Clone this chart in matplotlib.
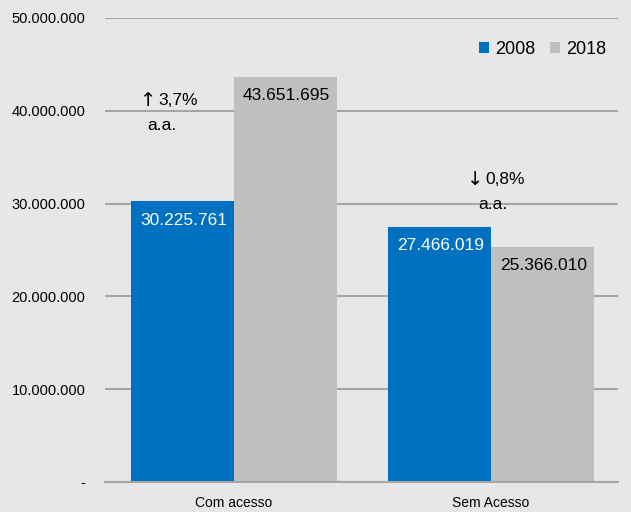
import matplotlib
matplotlib.use("Agg")
import matplotlib.pyplot as plt
import numpy as np

# ==========================================================
# Data
# ==========================================================

categories = ["Com acesso", "Sem Acesso"]
series_names = ["2008", "2018"]
values_2008 = [30225761, 27466019]
values_2018 = [43651695, 25366010]
growth_arrows = ["\u2191", "\u2193"]
growth_rates = ["3,7%", "0,8%"]
y_ticks = [0, 10000000, 20000000, 30000000, 40000000, 50000000]

BLUE = "#0070c0"
GRAY = "#bfbfbf"
BG = "#e6e7e9"
GRID = "#a6a6a6"

plt.rcParams["font.family"] = ["Liberation Sans", "DejaVu Sans"]


def fmt(v):
    return f"{v:,}".replace(",", ".")


# ==========================================================
# Figure
# ==========================================================

fig = plt.figure(figsize=(6.31, 5.12), dpi=100, facecolor=BG)
ax = fig.add_axes([0.1664, 0.0586, 0.8126, 0.9064], facecolor=BG)

x = np.arange(len(categories))
w = 0.4

bars_a = ax.bar(x - w / 2, values_2008, w, color=BLUE, label=series_names[0], zorder=3)
bars_b = ax.bar(x + w / 2, values_2018, w, color=GRAY, label=series_names[1], zorder=3)

for rect, v in zip(bars_a, values_2008):
    ax.text(rect.get_x() + rect.get_width() / 2 + 0.005, v - 1200000, fmt(v),
            ha="center", va="top", color="white", fontsize=12.5, zorder=4)
for rect, v in zip(bars_b, values_2018):
    ax.text(rect.get_x() + rect.get_width() / 2 + 0.005, v - 1200000, fmt(v),
            ha="center", va="top", color="black", fontsize=12.5, zorder=4)

# growth annotations (arrow, rate, "a.a." below)
ann_rate_pos = [(-0.253, 41150000), (1.02, 32550000)]
ann_aa_pos = [(-0.28, 38450000), (1.008, 29850000)]
for i in range(len(categories)):
    rx, ry = ann_rate_pos[i]
    ax.text(rx - 0.05, ry, growth_arrows[i], ha="right", va="center",
            fontsize=14, family="DejaVu Sans", zorder=4)
    ax.text(rx - 0.04, ry, growth_rates[i], ha="left", va="center",
            fontsize=12.5, zorder=4)
    ax_x, ax_y = ann_aa_pos[i]
    ax.text(ax_x, ax_y, "a.a.", ha="center", va="center", fontsize=12.5, zorder=4)

ax.set_ylim(0, 50000000)
ax.set_xlim(-0.502, 1.494)
ax.set_yticks(y_ticks)
ax.set_yticklabels(["-"] + [fmt(t) for t in y_ticks[1:]], fontsize=10.5)
ax.set_xticks(x)
ax.set_xticklabels(categories, fontsize=10)

ax.yaxis.grid(True, color=GRID, linewidth=1.5, zorder=0)
ax.set_axisbelow(True)
for side in ["top", "right", "left"]:
    ax.spines[side].set_visible(False)
ax.spines["bottom"].set_color(GRID)
ax.spines["bottom"].set_linewidth(1.5)
ax.spines["bottom"].set_zorder(5)
ax.tick_params(axis="both", length=0)
ax.tick_params(axis="y", pad=14)
ax.tick_params(axis="x", pad=10)

ax.legend(loc="upper right", bbox_to_anchor=(1.01, 0.985), ncol=2, frameon=False,
          fontsize=13, handlelength=0.55, handleheight=0.55, handletextpad=0.35,
          columnspacing=0.8)

fig.savefig("out.png", dpi=100, facecolor=BG)
